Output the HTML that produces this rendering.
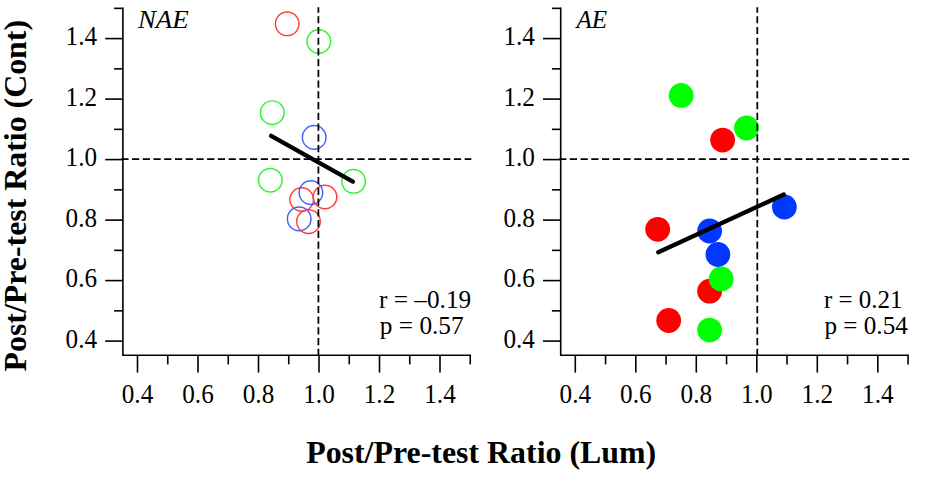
<!DOCTYPE html>
<html><head><meta charset="utf-8"><style>
html,body{margin:0;padding:0;background:#fff;width:951px;height:494px;overflow:hidden}
svg{display:block}
.tk{font-family:"Liberation Serif",serif;font-size:25.5px;fill:#000}
.tk2{font-family:"Liberation Serif",serif;font-size:26.3px;fill:#000}
.lab{font-family:"Liberation Serif",serif;font-style:italic;font-size:25.5px;fill:#000}
.ttl{font-family:"Liberation Serif",serif;font-weight:bold;font-size:32px;fill:#000}
</style></head><body>
<svg width="951" height="494" viewBox="0 0 951 494">
<path d="M122.90 8.35 V355.30 H470.25" fill="none" stroke="#000" stroke-width="1.6" stroke-linejoin="miter" stroke-linecap="square"/>
<g stroke="#000" stroke-width="1.6"><line x1="105.20" y1="341.10" x2="122.90" y2="341.10"/><line x1="114.10" y1="310.85" x2="122.90" y2="310.85"/><line x1="105.20" y1="280.60" x2="122.90" y2="280.60"/><line x1="114.10" y1="250.35" x2="122.90" y2="250.35"/><line x1="105.20" y1="220.10" x2="122.90" y2="220.10"/><line x1="114.10" y1="189.85" x2="122.90" y2="189.85"/><line x1="105.20" y1="159.60" x2="122.90" y2="159.60"/><line x1="114.10" y1="129.35" x2="122.90" y2="129.35"/><line x1="105.20" y1="99.10" x2="122.90" y2="99.10"/><line x1="114.10" y1="68.85" x2="122.90" y2="68.85"/><line x1="105.20" y1="38.60" x2="122.90" y2="38.60"/><line x1="114.10" y1="8.35" x2="122.90" y2="8.35"/><line x1="137.50" y1="355.30" x2="137.50" y2="372.60"/><line x1="167.75" y1="355.30" x2="167.75" y2="364.40"/><line x1="198.00" y1="355.30" x2="198.00" y2="372.60"/><line x1="228.25" y1="355.30" x2="228.25" y2="364.40"/><line x1="258.50" y1="355.30" x2="258.50" y2="372.60"/><line x1="288.75" y1="355.30" x2="288.75" y2="364.40"/><line x1="319.00" y1="355.30" x2="319.00" y2="372.60"/><line x1="349.25" y1="355.30" x2="349.25" y2="364.40"/><line x1="379.50" y1="355.30" x2="379.50" y2="372.60"/><line x1="409.75" y1="355.30" x2="409.75" y2="364.40"/><line x1="440.00" y1="355.30" x2="440.00" y2="372.60"/><line x1="470.25" y1="355.30" x2="470.25" y2="364.40"/></g>
<text x="97.10" y="347.90" text-anchor="end" class="tk2" textLength="31.5" lengthAdjust="spacingAndGlyphs">0.4</text>
<text x="137.50" y="402.6" text-anchor="middle" class="tk2" textLength="31.5" lengthAdjust="spacingAndGlyphs">0.4</text>
<text x="97.10" y="287.40" text-anchor="end" class="tk2" textLength="31.5" lengthAdjust="spacingAndGlyphs">0.6</text>
<text x="198.00" y="402.6" text-anchor="middle" class="tk2" textLength="31.5" lengthAdjust="spacingAndGlyphs">0.6</text>
<text x="97.10" y="226.90" text-anchor="end" class="tk2" textLength="31.5" lengthAdjust="spacingAndGlyphs">0.8</text>
<text x="258.50" y="402.6" text-anchor="middle" class="tk2" textLength="31.5" lengthAdjust="spacingAndGlyphs">0.8</text>
<text x="97.10" y="166.40" text-anchor="end" class="tk2" textLength="31.5" lengthAdjust="spacingAndGlyphs">1.0</text>
<text x="319.00" y="402.6" text-anchor="middle" class="tk2" textLength="31.5" lengthAdjust="spacingAndGlyphs">1.0</text>
<text x="97.10" y="105.90" text-anchor="end" class="tk2" textLength="31.5" lengthAdjust="spacingAndGlyphs">1.2</text>
<text x="379.50" y="402.6" text-anchor="middle" class="tk2" textLength="31.5" lengthAdjust="spacingAndGlyphs">1.2</text>
<text x="97.10" y="45.40" text-anchor="end" class="tk2" textLength="31.5" lengthAdjust="spacingAndGlyphs">1.4</text>
<text x="440.00" y="402.6" text-anchor="middle" class="tk2" textLength="31.5" lengthAdjust="spacingAndGlyphs">1.4</text>
<circle cx="287.2" cy="23.8" r="11.8" fill="none" stroke="#ff3c3c" stroke-width="1.45"/>
<circle cx="318.8" cy="41.5" r="11.8" fill="none" stroke="#2cf52c" stroke-width="1.45"/>
<circle cx="272.3" cy="112.7" r="11.8" fill="none" stroke="#2cf52c" stroke-width="1.45"/>
<circle cx="314.2" cy="137.4" r="11.8" fill="none" stroke="#3c64ff" stroke-width="1.45"/>
<circle cx="270.3" cy="180.2" r="11.8" fill="none" stroke="#2cf52c" stroke-width="1.45"/>
<circle cx="353.6" cy="181.3" r="11.8" fill="none" stroke="#2cf52c" stroke-width="1.45"/>
<circle cx="301.7" cy="199.5" r="11.8" fill="none" stroke="#ff3c3c" stroke-width="1.45"/>
<circle cx="325.0" cy="197.0" r="11.8" fill="none" stroke="#ff3c3c" stroke-width="1.45"/>
<circle cx="310.9" cy="192.6" r="11.8" fill="none" stroke="#3c64ff" stroke-width="1.45"/>
<circle cx="299.2" cy="218.9" r="11.8" fill="none" stroke="#3c64ff" stroke-width="1.45"/>
<circle cx="308.5" cy="221.6" r="11.8" fill="none" stroke="#ff3c3c" stroke-width="1.45"/>
<line x1="121.30" y1="159.1" x2="471.30" y2="159.1" stroke="#000" stroke-width="1.75" stroke-dasharray="7.2 3.53"/>
<line x1="318.4" y1="356.0" x2="318.4" y2="7.3" stroke="#000" stroke-width="1.75" stroke-dasharray="7.2 3.53"/>
<line x1="271.1" y1="135.8" x2="352.9" y2="181.6" stroke="#000" stroke-width="4.3" stroke-linecap="round"/>
<text x="137.90" y="28.4" class="lab" textLength="50.8" lengthAdjust="spacingAndGlyphs">NAE</text>
<text x="379.0" y="308.2" class="tk" textLength="92.2" lengthAdjust="spacingAndGlyphs">r = –0.19</text>
<text x="379.8" y="334.0" class="tk" textLength="83.9" lengthAdjust="spacingAndGlyphs">p = 0.57</text>
<path d="M560.70 8.35 V355.30 H908.05" fill="none" stroke="#000" stroke-width="1.6" stroke-linejoin="miter" stroke-linecap="square"/>
<g stroke="#000" stroke-width="1.6"><line x1="543.00" y1="341.10" x2="560.70" y2="341.10"/><line x1="551.90" y1="310.85" x2="560.70" y2="310.85"/><line x1="543.00" y1="280.60" x2="560.70" y2="280.60"/><line x1="551.90" y1="250.35" x2="560.70" y2="250.35"/><line x1="543.00" y1="220.10" x2="560.70" y2="220.10"/><line x1="551.90" y1="189.85" x2="560.70" y2="189.85"/><line x1="543.00" y1="159.60" x2="560.70" y2="159.60"/><line x1="551.90" y1="129.35" x2="560.70" y2="129.35"/><line x1="543.00" y1="99.10" x2="560.70" y2="99.10"/><line x1="551.90" y1="68.85" x2="560.70" y2="68.85"/><line x1="543.00" y1="38.60" x2="560.70" y2="38.60"/><line x1="551.90" y1="8.35" x2="560.70" y2="8.35"/><line x1="575.30" y1="355.30" x2="575.30" y2="372.60"/><line x1="605.55" y1="355.30" x2="605.55" y2="364.40"/><line x1="635.80" y1="355.30" x2="635.80" y2="372.60"/><line x1="666.05" y1="355.30" x2="666.05" y2="364.40"/><line x1="696.30" y1="355.30" x2="696.30" y2="372.60"/><line x1="726.55" y1="355.30" x2="726.55" y2="364.40"/><line x1="756.80" y1="355.30" x2="756.80" y2="372.60"/><line x1="787.05" y1="355.30" x2="787.05" y2="364.40"/><line x1="817.30" y1="355.30" x2="817.30" y2="372.60"/><line x1="847.55" y1="355.30" x2="847.55" y2="364.40"/><line x1="877.80" y1="355.30" x2="877.80" y2="372.60"/><line x1="908.05" y1="355.30" x2="908.05" y2="364.40"/></g>
<text x="534.90" y="347.90" text-anchor="end" class="tk2" textLength="31.5" lengthAdjust="spacingAndGlyphs">0.4</text>
<text x="575.30" y="402.6" text-anchor="middle" class="tk2" textLength="31.5" lengthAdjust="spacingAndGlyphs">0.4</text>
<text x="534.90" y="287.40" text-anchor="end" class="tk2" textLength="31.5" lengthAdjust="spacingAndGlyphs">0.6</text>
<text x="635.80" y="402.6" text-anchor="middle" class="tk2" textLength="31.5" lengthAdjust="spacingAndGlyphs">0.6</text>
<text x="534.90" y="226.90" text-anchor="end" class="tk2" textLength="31.5" lengthAdjust="spacingAndGlyphs">0.8</text>
<text x="696.30" y="402.6" text-anchor="middle" class="tk2" textLength="31.5" lengthAdjust="spacingAndGlyphs">0.8</text>
<text x="534.90" y="166.40" text-anchor="end" class="tk2" textLength="31.5" lengthAdjust="spacingAndGlyphs">1.0</text>
<text x="756.80" y="402.6" text-anchor="middle" class="tk2" textLength="31.5" lengthAdjust="spacingAndGlyphs">1.0</text>
<text x="534.90" y="105.90" text-anchor="end" class="tk2" textLength="31.5" lengthAdjust="spacingAndGlyphs">1.2</text>
<text x="817.30" y="402.6" text-anchor="middle" class="tk2" textLength="31.5" lengthAdjust="spacingAndGlyphs">1.2</text>
<text x="534.90" y="45.40" text-anchor="end" class="tk2" textLength="31.5" lengthAdjust="spacingAndGlyphs">1.4</text>
<text x="877.80" y="402.6" text-anchor="middle" class="tk2" textLength="31.5" lengthAdjust="spacingAndGlyphs">1.4</text>
<circle cx="681.2" cy="95.4" r="12.4" fill="#00ff00"/>
<circle cx="746.5" cy="128.0" r="12.4" fill="#00ff00"/>
<circle cx="722.6" cy="140.1" r="12.4" fill="#ff0000"/>
<circle cx="657.7" cy="229.3" r="12.4" fill="#ff0000"/>
<circle cx="709.6" cy="231.0" r="12.4" fill="#0038ff"/>
<circle cx="784.4" cy="207.0" r="12.4" fill="#0038ff"/>
<circle cx="717.9" cy="254.5" r="12.4" fill="#0038ff"/>
<circle cx="709.6" cy="291.2" r="12.4" fill="#ff0000"/>
<circle cx="721.2" cy="278.9" r="12.4" fill="#00ff00"/>
<circle cx="668.7" cy="320.5" r="12.4" fill="#ff0000"/>
<circle cx="709.6" cy="330.1" r="12.4" fill="#00ff00"/>
<line x1="559.10" y1="159.1" x2="909.10" y2="159.1" stroke="#000" stroke-width="1.75" stroke-dasharray="7.2 3.53"/>
<line x1="757.3" y1="356.0" x2="757.3" y2="7.3" stroke="#000" stroke-width="1.75" stroke-dasharray="7.2 3.53"/>
<line x1="658.3" y1="252.3" x2="783.8" y2="194.5" stroke="#000" stroke-width="4.3" stroke-linecap="round"/>
<text x="576.50" y="28.4" class="lab" textLength="30.7" lengthAdjust="spacingAndGlyphs">AE</text>
<text x="824.0" y="308.2" class="tk" textLength="78.5" lengthAdjust="spacingAndGlyphs">r = 0.21</text>
<text x="824.5" y="334.0" class="tk" textLength="83.3" lengthAdjust="spacingAndGlyphs">p = 0.54</text>
<text x="306.2" y="463.3" class="ttl" textLength="350" lengthAdjust="spacingAndGlyphs">Post/Pre-test Ratio (Lum)</text>
<text transform="translate(25.9 371.5) rotate(-90)" x="0" y="0" class="ttl" textLength="351.5" lengthAdjust="spacingAndGlyphs">Post/Pre-test Ratio (Cont)</text>
</svg>
</body></html>
